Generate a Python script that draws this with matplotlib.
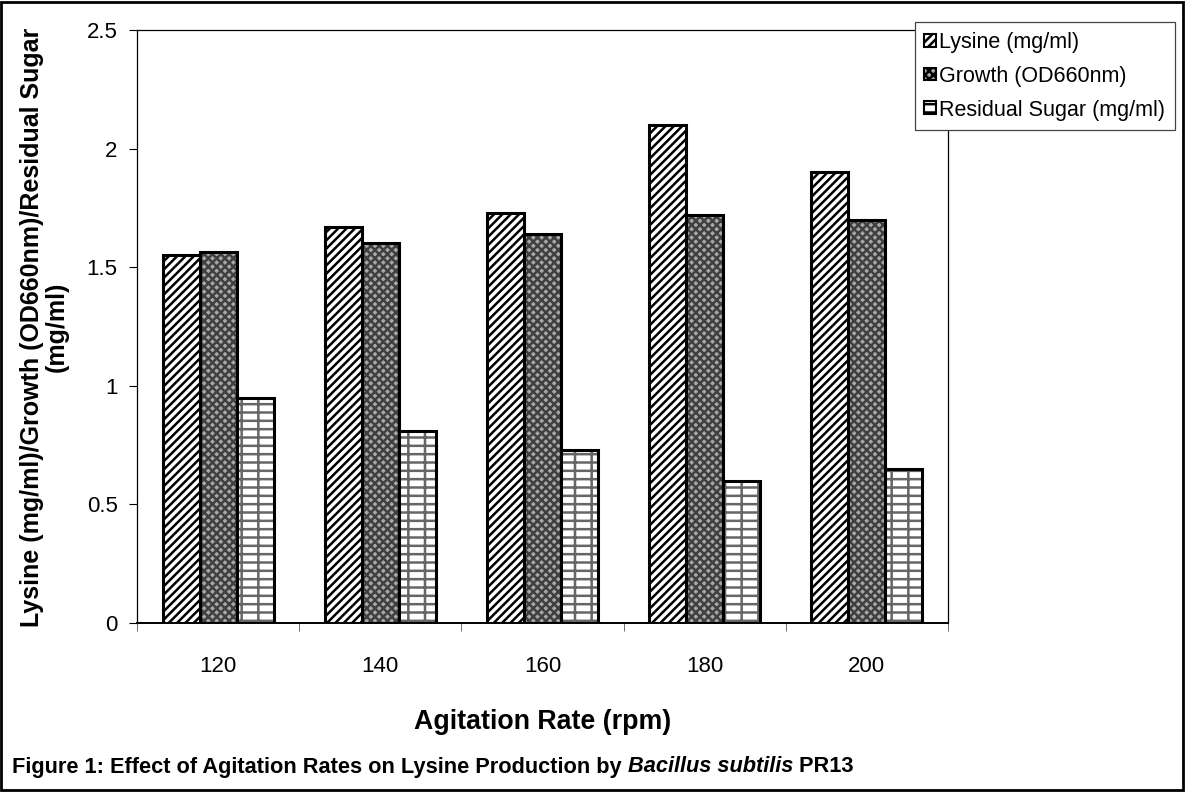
import matplotlib.pyplot as plt
import numpy as np
from matplotlib.patches import Rectangle, Patch

plt.rcParams['font.family'] = ['Liberation Sans', 'DejaVu Sans']
plt.rcParams['hatch.linewidth'] = 1.8

# data
rates = ['120', '140', '160', '180', '200']
lysine = [1.55, 1.67, 1.73, 2.10, 1.90]
growth = [1.565, 1.60, 1.64, 1.72, 1.70]
sugar = [0.95, 0.81, 0.73, 0.60, 0.65]
series_names = ['Lysine (mg/ml)', 'Growth (OD660nm)', 'Residual Sugar (mg/ml)']

fig = plt.figure(figsize=(11.85, 7.92), dpi=100)
ax = fig.add_axes([137 / 1185, 1 - 623 / 792, (948 - 137) / 1185, (623 - 30) / 792])

x = np.arange(len(rates))
w = 0.228
styles = [
    dict(fc='white', hatch_ec='black', hatch='////'),
    dict(fc='#a8a8a8', hatch_ec='#404040', hatch='xxxx'),
    dict(fc='white', hatch_ec='#666666', hatch='-+'),
]
for i, vals in enumerate([lysine, growth, sugar]):
    st = styles[i]
    pos = x + (i - 1) * w
    # hatch layer, then outline on top
    ax.bar(pos, vals, w, color=st['fc'], edgecolor=st['hatch_ec'], hatch=st['hatch'], linewidth=0)
    ax.bar(pos, vals, w, fill=False, edgecolor='black', linewidth=2.2)

ax.set_xlim(-0.5, len(rates) - 0.5)
ax.set_ylim(0, 2.5)
ax.set_yticks([0, 0.5, 1, 1.5, 2, 2.5])
ax.set_yticklabels(['0', '0.5', '1', '1.5', '2', '2.5'])
ax.set_xticks(x)
ax.set_xticklabels(rates)
ax.set_xticks(np.arange(-0.5, len(rates)), minor=True)
ax.tick_params(axis='x', which='major', length=0, pad=24, labelsize=16)
ax.tick_params(axis='x', which='minor', length=6, direction='out', color='#555555')
ax.tick_params(axis='y', length=6, direction='out', labelsize=16, pad=8)
for s in ['top', 'right', 'left']:
    ax.spines[s].set_linewidth(0.9)
ax.spines['bottom'].set_linewidth(1.4)

ax.set_xlabel('Agitation Rate (rpm)', fontsize=19.3, fontweight='bold', labelpad=23)
fig.text(44 / 1185, 1 - 327 / 792, 'Lysine (mg/ml)/Growth (OD660nm)/Residual Sugar\n(mg/ml)',
         rotation=90, ha='center', va='center', fontsize=18, fontweight='bold', linespacing=1.05)

handles = [
    Patch(facecolor='white', edgecolor='black', hatch='////', linewidth=1.5),
    Patch(facecolor='#a8a8a8', edgecolor='black', hatch='xxxx', linewidth=1.5),
    Patch(facecolor='white', edgecolor='black', hatch='--', linewidth=1.5),
]
leg = fig.legend(handles, series_names, loc='upper right',
                 bbox_to_anchor=(1175 / 1185, 1 - 22 / 792), bbox_transform=fig.transFigure,
                 borderaxespad=0, fontsize=15.5, handlelength=0.55, handleheight=0.55,
                 handletextpad=0.15, labelspacing=0.6, borderpad=0.45, fancybox=False,
                 framealpha=1, edgecolor='#444444')
leg.get_frame().set_linewidth(0.9)

# caption with italic species name
fig.canvas.draw()
r = fig.canvas.get_renderer()
cy = 1 - 767 / 792
cx = 12 / 1185
parts = [('Figure 1: Effect of Agitation Rates on Lysine Production by ', 'normal'),
         ('Bacillus subtilis', 'italic'), (' PR13', 'normal')]
for txt, style in parts:
    t = fig.text(cx, cy, txt, fontsize=15.7, fontweight='bold', fontstyle=style, va='center', ha='left')
    bb = t.get_window_extent(renderer=r)
    cx += bb.width / fig.bbox.width

fig.patches.append(Rectangle((0.001, 0.002), 0.997, 0.996, transform=fig.transFigure,
                             fill=False, edgecolor='black', linewidth=2))

fig.savefig('out.png', dpi=100)
